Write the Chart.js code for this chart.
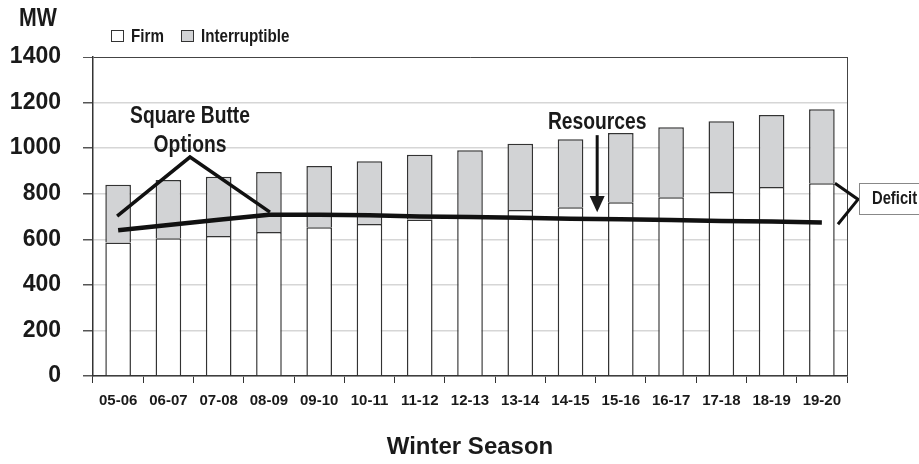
<!DOCTYPE html>
<html>
<head>
<meta charset="utf-8">
<title>Winter Season Peak Demand</title>
<script src="https://cdn.jsdelivr.net/npm/chart.js@4/dist/chart.umd.min.js"></script>
<style>
  html, body { margin: 0; padding: 0; background: #fff; }
  #wrap { width: 919px; height: 464px; position: relative; }
</style>
</head>
<body>
<div id="wrap"><canvas id="c" width="919" height="464"></canvas></div>
<script>
// Winter seasons on the category axis
const seasons = ['05-06', '06-07', '07-08', '08-09', '09-10', '10-11', '11-12', '12-13',
                 '13-14', '14-15', '15-16', '16-17', '17-18', '18-19', '19-20'];
// Firm load (MW)
const firm = [586, 605, 614, 632, 653, 667, 687, 700, 728, 741, 763, 785, 807, 829, 846];
// Interruptible load stacked on top of firm (MW)
const interruptible = [253, 255, 260, 263, 269, 276, 284, 291, 291, 298, 303, 307, 311, 317, 325];
// Available resources (MW)
const resources = [640, 663, 686, 708, 708, 706, 700, 698, 695, 690, 688, 685, 680, 678, 674];
// Value axis ticks
const yTicks = [0, 200, 400, 600, 800, 1000, 1200, 1400];

const FONT = "'Liberation Sans', Arial, sans-serif";
const INK = '#1a1a1a';
const SQUEEZE = 0.82; // horizontal squeeze for the condensed callout lettering

// Draws condensed bold text anchored at (x, y)
function condensed(ctx, text, x, y, size, align) {
  ctx.save();
  ctx.translate(x, y);
  ctx.scale(SQUEEZE, 1);
  ctx.font = 'bold ' + size + 'px ' + FONT;
  ctx.textAlign = align;
  ctx.textBaseline = 'middle';
  ctx.fillText(text, 0, 0);
  ctx.restore();
}

// Frame, legend, unit label and callouts
const decorations = {
  id: 'decorations',
  afterDatasetsDraw(chart) {
    const { ctx, chartArea: a, scales: { x, y } } = chart;
    ctx.save();

    // right edge of the plot frame
    ctx.strokeStyle = '#444';
    ctx.lineWidth = 1;
    ctx.beginPath();
    ctx.moveTo(a.right + 0.5, a.top);
    ctx.lineTo(a.right + 0.5, a.bottom);
    ctx.stroke();

    // unit label
    ctx.fillStyle = INK;
    condensed(ctx, 'MW', 38, 19, 26, 'center');

    // legend
    const fills = [chart.data.datasets[0].backgroundColor, chart.data.datasets[1].backgroundColor];
    const names = [chart.data.datasets[0].label, chart.data.datasets[1].label];
    const boxX = [111, 181];
    for (let i = 0; i < 2; i++) {
      ctx.fillStyle = fills[i];
      ctx.fillRect(boxX[i] + 0.5, 30.5, 12, 11);
      ctx.strokeStyle = '#333';
      ctx.lineWidth = 1;
      ctx.strokeRect(boxX[i] + 0.5, 30.5, 12, 11);
      ctx.fillStyle = INK;
      condensed(ctx, names[i], boxX[i] + 20, 36.5, 18.5, 'left');
    }

    const px = (i) => x.getPixelForValue(i);
    const py = (v) => y.getPixelForValue(v);

    // Square Butte options callout
    ctx.strokeStyle = '#111';
    ctx.lineWidth = 3.5;
    ctx.lineJoin = 'miter';
    ctx.beginPath();
    ctx.moveTo(px(-0.02), py(702));
    ctx.lineTo(px(1.43), py(961));
    ctx.lineTo(px(3.02), py(719));
    ctx.stroke();
    ctx.fillStyle = INK;
    condensed(ctx, 'Square Butte', px(1.43), py(1140), 23.5, 'center');
    condensed(ctx, 'Options', px(1.43), py(1013), 23.5, 'center');

    // Resources callout with downward arrow
    const ax = px(9.53);
    condensed(ctx, 'Resources', ax, py(1114), 23.5, 'center');
    ctx.lineWidth = 3;
    ctx.beginPath();
    ctx.moveTo(ax, py(1057));
    ctx.lineTo(ax, py(790));
    ctx.stroke();
    ctx.beginPath();
    ctx.moveTo(ax - 7.5, py(790));
    ctx.lineTo(ax + 7.5, py(790));
    ctx.lineTo(ax, py(719));
    ctx.closePath();
    ctx.fill();

    // Deficit bracket between firm load and resources in the last season
    const last = seasons.length - 1;
    const topV = firm[last], botV = resources[last];
    ctx.lineWidth = 3;
    ctx.beginPath();
    ctx.moveTo(px(last + 0.26), py(topV));
    ctx.lineTo(px(last + 0.72), py((topV + botV) / 2 + 15));
    ctx.lineTo(px(last + 0.32), py(botV - 8));
    ctx.stroke();

    const bx = a.right + 12;
    ctx.fillStyle = '#fff';
    ctx.fillRect(bx + 0.5, 183.5, 70, 31);
    ctx.strokeStyle = '#888';
    ctx.lineWidth = 1;
    ctx.strokeRect(bx + 0.5, 183.5, 70, 31);
    ctx.fillStyle = INK;
    condensed(ctx, 'Deficit', bx + 13, 199.5, 18, 'left');

    ctx.restore();
  }
};

new Chart(document.getElementById('c'), {
  data: {
    labels: seasons,
    datasets: [
      {
        type: 'bar', label: 'Firm', data: firm, stack: 'load', order: 1,
        backgroundColor: '#ffffff', borderColor: '#333333', borderWidth: 1.5,
        categoryPercentage: 1, barPercentage: 0.51
      },
      {
        type: 'bar', label: 'Interruptible', data: interruptible, stack: 'load', order: 1,
        backgroundColor: '#d2d3d5', borderColor: '#333333', borderWidth: 1.5,
        categoryPercentage: 1, barPercentage: 0.51
      },
      {
        type: 'line', label: 'Resources', data: resources, stack: 'supply', order: 0,
        borderColor: '#111111', borderWidth: 4.5, pointRadius: 0, tension: 0, fill: false
      }
    ]
  },
  options: {
    responsive: false,
    animation: false,
    events: [],
    layout: { padding: { top: 57, right: 72, left: 0, bottom: 0 } },
    plugins: { legend: { display: false }, tooltip: { enabled: false } },
    scales: {
      x: {
        stacked: true,
        offset: true,
        afterFit(s) { s.height = 88; },
        grid: { drawOnChartArea: false, drawTicks: true, tickLength: 7, tickColor: '#333', offset: true, lineWidth: 1 },
        border: { display: true, color: '#333', width: 1.5 },
        ticks: { color: INK, font: { family: FONT, weight: 'bold', size: 15 }, padding: 9, maxRotation: 0, autoSkip: false },
        title: {
          display: true, text: 'Winter Season', color: INK,
          font: { family: FONT, weight: 'bold', size: 24, lineHeight: 1.2 },
          padding: { top: 0, bottom: 2 }
        }
      },
      y: {
        stacked: true,
        min: yTicks[0],
        max: yTicks[yTicks.length - 1],
        afterFit(s) { s.width = 93; },
        afterBuildTicks(s) { s.ticks = yTicks.map(v => ({ value: v })); },
        grid: {
          color: (c) => (c.tick && c.tick.value === yTicks[yTicks.length - 1]) ? '#444' : '#d6d6d6',
          lineWidth: (c) => (c.tick && c.tick.value === yTicks[yTicks.length - 1]) ? 1 : 1.5,
          tickColor: '#555', tickLength: 10, drawTicks: true
        },
        border: { display: true, color: '#333', width: 1.5 },
        ticks: { color: INK, font: { family: FONT, weight: 'bold', size: 23 }, padding: 22, callback: (v) => String(v) }
      }
    }
  },
  plugins: [decorations]
});
</script>
</body>
</html>
